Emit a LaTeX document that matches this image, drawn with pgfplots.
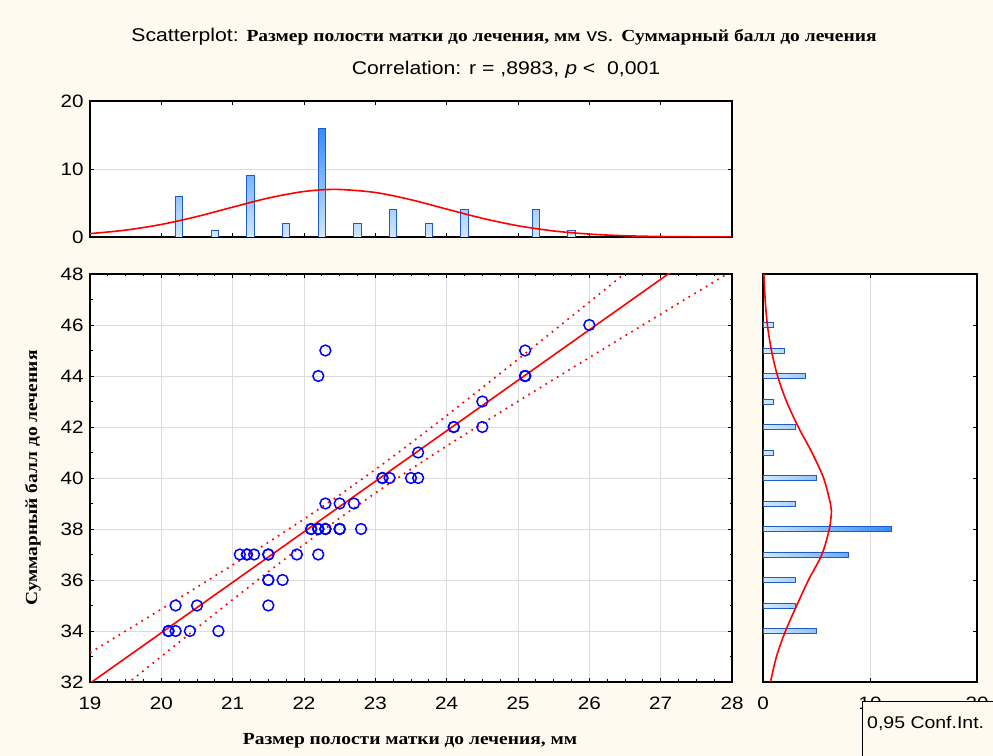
\documentclass[border=0pt]{standalone}
\usepackage{pgfplots}
\pgfplotsset{compat=1.18}
\usepackage{fontspec}
\setmainfont[FakeStretch=1.15]{Liberation Sans}
\newfontfamily\tnr[FakeStretch=1.15]{Liberation Serif}
\definecolor{bg}{RGB}{255,250,240}
\definecolor{barline}{RGB}{30,90,200}
\definecolor{bartop}{RGB}{50,140,250}
\definecolor{barbot}{RGB}{210,232,252}
\definecolor{gridc}{RGB}{220,220,220}
\pgfplotsset{common/.style={
  scale only axis, anchor=south west,
  axis line style={black, line width=1.4bp},
  tick style={black, line width=0.9bp},
  major tick length=4bp, minor tick length=2.5bp,
  tick align=inside,
  /pgf/number format/assume math mode=true,
  ticklabel style={font=\fontsize{18}{21}\selectfont},
  yticklabel style={xshift=-3bp},
  grid style={gridc, line width=0.8bp},
  axis background/.style={fill=white},
}}
\begin{document}
\begin{tikzpicture}
\useasboundingbox (0bp,0bp) rectangle (993bp,756bp);
\fill[bg] (0bp,0bp) rectangle (993bp,756bp);

% ---------- main scatterplot ----------
\begin{axis}[common, at={(90bp,74bp)}, width=642bp, height=408bp,
  xmin=19, xmax=28, ymin=32, ymax=48,
  xtick={19,20,...,28}, ytick={32,34,...,48},
  minor x tick num=3, minor y tick num=1,
  grid=major,
  xticklabel style={yshift=-11bp}]
% 95% confidence band (upper)
\addplot[red, line width=1.7bp, dash pattern=on 1.7bp off 5bp] coordinates {
 (19,33.148) (19.5,34.00) (20,34.857) (20.5,35.719) (21,36.59) (21.5,37.476)
 (22,38.387) (22.5,39.334) (23,40.329) (23.5,41.37) (24,42.446) (24.5,43.543)
 (25,44.654) (25.5,45.773) (26,46.898) (26.5,48.026) (27,49.156) (27.5,50.289) (28,51.42)};
% 95% confidence band (lower)
\addplot[red, line width=1.7bp, dash pattern=on 1.7bp off 5bp] coordinates {
 (19,30.752) (19.5,31.88) (20,33.003) (20.5,34.121) (21,35.23) (21.5,36.324)
 (22,37.393) (22.5,38.426) (23,39.411) (23.5,40.35) (24,41.255) (24.5,42.137)
 (25,43.006) (25.5,43.867) (26,44.723) (26.5,45.574) (27,46.424) (27.5,47.271) (28,48.12)};
% regression line
\addplot[red, line width=1.6bp] coordinates {(19,31.95) (28,49.77)};
% observations
\addplot[only marks, mark=o, mark size=5.4bp, mark options={blue, line width=1.5bp}] coordinates {
 (20.1,34) (20.1,34) (20.2,34) (20.4,34) (20.8,34)
 (20.2,35) (20.5,35) (21.5,35)
 (21.5,36) (21.5,36) (21.7,36)
 (21.1,37) (21.2,37) (21.2,37) (21.3,37) (21.5,37) (21.5,37) (21.9,37) (22.2,37)
 (22.1,38) (22.1,38) (22.2,38) (22.2,38) (22.2,38) (22.3,38) (22.3,38) (22.3,38)
 (22.5,38) (22.5,38) (22.5,38) (22.8,38)
 (22.3,39) (22.5,39) (22.7,39)
 (23.1,40) (23.1,40) (23.2,40) (23.5,40) (23.6,40)
 (23.6,41)
 (24.1,42) (24.1,42) (24.5,42)
 (24.5,43)
 (22.2,44) (25.1,44) (25.1,44) (25.1,44)
 (22.3,45) (25.1,45)
 (26.0,46)};
\end{axis}

% ---------- top histogram ----------
\begin{axis}[common, at={(90bp,519bp)}, width=642bp, height=136bp,
  xmin=19, xmax=28, ymin=0, ymax=20,
  xtick={19,20,...,28}, xticklabels={},
  ytick={0,10,20}, ymajorgrids]
\addplot[ybar, bar width=7.5bp, draw=barline, line width=0.9bp,
  bottom color=barbot, top color=bartop] coordinates {
 (20.25,6) (20.75,1) (21.25,9) (21.75,2) (22.25,16) (22.75,2)
 (23.25,4) (23.75,2) (24.25,4) (25.25,4) (25.75,1)};
\addplot[red, line width=1.6bp, smooth] coordinates {
 (19,0.497) (19.5,1.012) (20,1.845) (20.5,3.007) (21,4.388) (21.5,5.728)
 (22,6.692) (22.45,7.0) (23,6.545) (23.5,5.479) (24,4.104) (24.5,2.751)
 (25,1.650) (25.5,0.886) (26,0.425) (26.5,0.183) (27,0.070) (27.5,0.024) (28,0.007)};
\end{axis}

% ---------- right histogram ----------
\begin{axis}[common, at={(763bp,74bp)}, width=214bp, height=408bp,
  xmin=0, xmax=20, ymin=32, ymax=48,
  xtick={0,10,20}, ytick={32,34,...,48}, yticklabels={},
  xmajorgrids, xticklabel style={yshift=-11bp}]
\addplot[xbar, bar width=5bp, draw=barline, line width=0.9bp,
  left color=barbot, right color=bartop] coordinates {
 (5,34) (3,35) (3,36) (8,37) (12,38) (3,39) (5,40) (1,41) (3,42) (1,43) (4,44) (2,45) (1,46)};
\addplot[red, line width=1.6bp, smooth] coordinates {
 (0.7,32) (1.26,33) (2.1,34) (3.15,35) (4.25,36) (5.5,37) (6.2,38) (6.4,38.7)
 (6.3,39) (5.66,40) (4.57,41) (3.3,42) (2.2,43) (1.36,44) (0.79,45) (0.41,46) (0.2,47) (0.08,48)};
\end{axis}

% ---------- titles and labels ----------
\node[font=\fontsize{18.5}{22}\selectfont] at (504bp,719bp)
  {Scatterplot: {\tnr\bfseries\fontsize{17}{20}\selectfont Размер полости матки до лечения, мм} vs. {\tnr\bfseries\fontsize{17}{20}\selectfont Суммарный балл до лечения}};
\node[font=\fontsize{18.5}{22}\selectfont] at (506bp,686bp)
  {Correlation: r = ,8983, \textit{p} <\ \ 0,001};
\node[rotate=90, font=\tnr\bfseries\fontsize{17}{20}\selectfont] at (33bp,278bp)
  {Суммарный балл до лечения};
\node[font=\tnr\bfseries\fontsize{17}{20}\selectfont] at (410bp,15bp)
  {Размер полости матки до лечения, мм};

% ---------- legend (partly outside the picture) ----------
\draw[fill=bg, line width=1bp] (862bp,54bp) rectangle (1010bp,-20bp);
\node[anchor=west, font=\fontsize{17}{20}\selectfont, inner sep=0pt] at (867bp,33bp) {0,95 Conf.Int.};
\end{tikzpicture}
\end{document}
